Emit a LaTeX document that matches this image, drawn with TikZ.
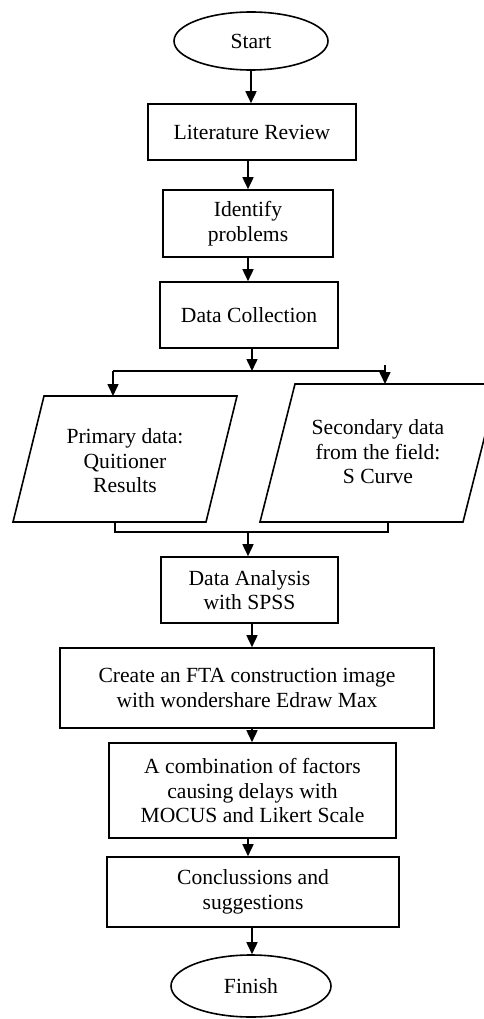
\documentclass[tikz,border=0pt]{standalone}
\usepackage{fontspec}
\setmainfont{Liberation Serif}
\usetikzlibrary{shapes.geometric,arrows.meta}
\begin{document}
\begin{tikzpicture}[x=1pt,y=-1pt,
  font=\fontsize{21.6}{24.5}\selectfont,
  box/.style={draw,line width=1.6pt,rectangle,align=center,inner sep=0pt},
  term/.style={draw,line width=1.6pt,ellipse,inner sep=0pt},
  outline/.style={draw,line width=1.6pt,line join=miter},
  label/.style={align=center,inner sep=0pt},
  arr/.style={line width=1.6pt,-{Triangle[length=12pt,width=11pt]}},
  link/.style={line width=1.1pt}]
\useasboundingbox (0,0) rectangle (484,1019);

% process steps
\node[term,minimum width=154pt,minimum height=58pt] (start) at (251,41) {Start};
\node[box,minimum width=208pt,minimum height=56pt] (lit) at (252,132) {Literature Review};
\node[box,minimum width=170pt,minimum height=67pt] (idp) at (248,223.5) {Identify\\problems};
\node[box,minimum width=178pt,minimum height=66pt] (dcol) at (249,315) {Data Collection};

% the two data sources (parallelograms)
\coordinate (pA) at (44,396);  \coordinate (pB) at (237,396);
\coordinate (pC) at (206,522); \coordinate (pD) at (13,522);
\coordinate (sA) at (295,384); \coordinate (sB) at (498,384);
\coordinate (sC) at (463,522); \coordinate (sD) at (260,522);
\draw[outline] (pA) -- (pB) -- (pC) -- (pD) -- cycle;
\draw[outline] (sA) -- (sB) -- (sC) -- (sD) -- cycle;
\node[label] (prim) at (125,461) {Primary data:\\Quitioner\\Results};
\node[label] (sec) at (378,452) {Secondary data\\from the field:\\S Curve};

\node[box,minimum width=177pt,minimum height=66pt] (ana) at (249.5,590) {Data Analysis\\with SPSS};
\node[box,minimum width=374pt,minimum height=80pt] (fta) at (247,688) {Create an FTA construction image\\with wondershare Edraw Max};
\node[box,minimum width=287pt,minimum height=95pt] (comb) at (252.5,790.5) {A combination of factors\\causing delays with\\MOCUS and Likert Scale};
\node[box,minimum width=292pt,minimum height=70pt] (conc) at (253,892) {Conclussions and\\suggestions};
\node[term,minimum width=160pt,minimum height=62pt] (fin) at (251,986) {Finish};

% junction points of the split and merge
\coordinate (split) at (252,371);
\coordinate (sl) at (113,371);
\coordinate (sr) at (385,371);
\coordinate (stub) at (385,365);
\coordinate (jl) at (115,532);
\coordinate (jr) at (388,532);
\coordinate (merge) at (248,532);

% straight flow
\draw[arr] (start.south) -- (start.south |- lit.north);
\draw[arr] (idp.north |- lit.south) -- (idp.north);
\draw[arr] (idp.south) -- (idp.south |- dcol.north);

% split into the two data sources
\draw[arr] (dcol.south -| split) -- (split);
\draw[link] (sl) -- (sr);
\draw[arr] (sl) -- (sl |- pA);
\draw[arr] (stub) -- (stub |- sA);

% merge back
\draw[link] (jl |- pD) -- (jl) -- (jr) -- (jr |- sD);
\draw[arr] (merge) -- (merge |- ana.north);

\draw[arr] (ana.south -| split) -- (split |- fta.north);
\draw[arr] (fta.south -| split) -- (split |- comb.north);
\draw[arr] (comb.south -| merge) -- (merge |- conc.north);
\draw[arr] (conc.south -| split) -- (split |- fin.north);
\end{tikzpicture}
\end{document}
